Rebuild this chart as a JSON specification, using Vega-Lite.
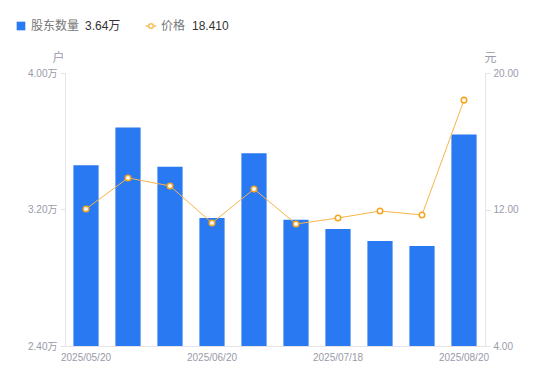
{
  "$schema": "https://vega.github.io/schema/vega-lite/v6.json",
  "width": 420,
  "height": 273,
  "autosize": "none",
  "padding": {"left": 65, "top": 73, "right": 65, "bottom": 35},
  "background": "white",
  "config": {
    "view": {"stroke": null},
    "font": "Liberation Sans, Noto Sans CJK SC, sans-serif"
  },
  "data": {
    "values": [
      {"date": "2025/05/20", "holders": 3.46, "price": 12.03},
      {"date": "2025/05/30", "holders": 3.68, "price": 13.85},
      {"date": "2025/06/10", "holders": 3.45, "price": 13.38},
      {"date": "2025/06/20", "holders": 3.15, "price": 11.21},
      {"date": "2025/06/30", "holders": 3.53, "price": 13.2},
      {"date": "2025/07/10", "holders": 3.14, "price": 11.15},
      {"date": "2025/07/18", "holders": 3.086, "price": 11.5},
      {"date": "2025/07/31", "holders": 3.015, "price": 11.91},
      {"date": "2025/08/10", "holders": 2.986, "price": 11.68},
      {"date": "2025/08/20", "holders": 3.64, "price": 18.41}
    ]
  },
  "encoding": {
    "x": {
      "field": "date",
      "type": "nominal",
      "sort": null,
      "scale": {"paddingInner": 0, "paddingOuter": 0},
      "axis": {
        "title": null,
        "values": ["2025/05/20", "2025/06/20", "2025/07/18", "2025/08/20"],
        "labelAngle": 0,
        "ticks": false,
        "labelPadding": 6,
        "labelFontSize": 10,
        "labelColor": "#9a9aa8",
        "domainColor": "#e4e4e8"
      }
    }
  },
  "layer": [
    {
      "mark": {"type": "bar", "width": {"band": 0.6}, "clip": true},
      "encoding": {
        "y": {
          "field": "holders",
          "type": "quantitative",
          "scale": {"domain": [2.4, 4.0], "zero": false, "nice": false},
          "axis": {
            "orient": "left",
            "values": [2.4, 3.2, 4.0],
            "labelExpr": "format(datum.value, '.2f') + '万'",
            "grid": false,
            "domainColor": "#e4e4e8",
            "tickColor": "#e4e4e8",
            "tickSize": 5,
            "labelPadding": 3,
            "labelFontSize": 10,
            "labelColor": "#9a9aa8",
            "title": "户",
            "titleAngle": 0,
            "titleX": -7,
            "titleY": -16,
            "titleAlign": "center",
            "titleBaseline": "middle",
            "titleFontWeight": "normal",
            "titleFontSize": 12,
            "titleColor": "#9a9aa8"
          }
        },
        "color": {
          "datum": "股东数量",
          "scale": {"domain": ["股东数量"], "range": ["#2979f2"]},
          "legend": {
            "orient": "none",
            "legendX": -50,
            "legendY": -53,
            "title": null,
            "symbolType": "square",
            "symbolSize": 75,
            "labelFontSize": 12,
            "labelColor": "#777"
          }
        },
        "opacity": {
          "datum": "3.64万",
          "type": "nominal",
          "scale": {"domain": ["3.64万"], "range": [1]},
          "legend": {
            "orient": "none",
            "legendX": 4,
            "legendY": -53,
            "title": null,
            "symbolSize": 0,
            "symbolOpacity": 0,
            "symbolStrokeWidth": 0,
            "labelOffset": 4,
            "labelFontSize": 12,
            "labelColor": "#333"
          }
        }
      }
    },
    {
      "mark": {"type": "line", "color": "#f8b448", "strokeWidth": 1},
      "encoding": {
        "y": {
          "field": "price",
          "type": "quantitative",
          "scale": {"domain": [4, 20], "zero": false, "nice": false},
          "axis": {
            "orient": "right",
            "values": [4, 12, 20],
            "format": ".2f",
            "grid": false,
            "domainColor": "#e4e4e8",
            "tickColor": "#e4e4e8",
            "tickSize": 5,
            "labelPadding": 3,
            "labelFontSize": 10,
            "labelColor": "#9a9aa8",
            "title": "元",
            "titleAngle": 0,
            "titleX": 5,
            "titleY": -16,
            "titleAlign": "center",
            "titleBaseline": "middle",
            "titleFontWeight": "normal",
            "titleFontSize": 12,
            "titleColor": "#9a9aa8"
          }
        }
      }
    },
    {
      "mark": {"type": "point", "shape": "circle", "fill": "white", "filled": false, "size": 30, "strokeWidth": 1.6},
      "encoding": {
        "y": {"field": "price", "type": "quantitative", "scale": {"domain": [4, 20], "zero": false, "nice": false}, "axis": null},
        "stroke": {
          "datum": "价格",
          "scale": {"domain": ["价格"], "range": ["#f5a623"]},
          "legend": {
            "orient": "none",
            "legendX": 80,
            "legendY": -53,
            "title": null,
            "symbolType": "M-1,0H-0.45M0.45,0H1M0.45,0A0.45,0.45,0,1,1,-0.45,0A0.45,0.45,0,1,1,0.45,0Z",
            "symbolSize": 110,
            "symbolFillColor": "white",
            "symbolStrokeWidth": 1.5,
            "labelFontSize": 12,
            "labelColor": "#777"
          }
        },
        "opacity": {
          "datum": "18.410",
          "type": "nominal",
          "scale": {"domain": ["18.410"], "range": [1]},
          "legend": {
            "orient": "none",
            "legendX": 111,
            "legendY": -53,
            "title": null,
            "symbolSize": 0,
            "symbolOpacity": 0,
            "symbolStrokeWidth": 0,
            "labelOffset": 4,
            "labelFontSize": 12,
            "labelColor": "#333"
          }
        }
      }
    }
  ],
  "resolve": {"scale": {"y": "independent", "color": "independent", "stroke": "independent", "opacity": "independent"}}
}
